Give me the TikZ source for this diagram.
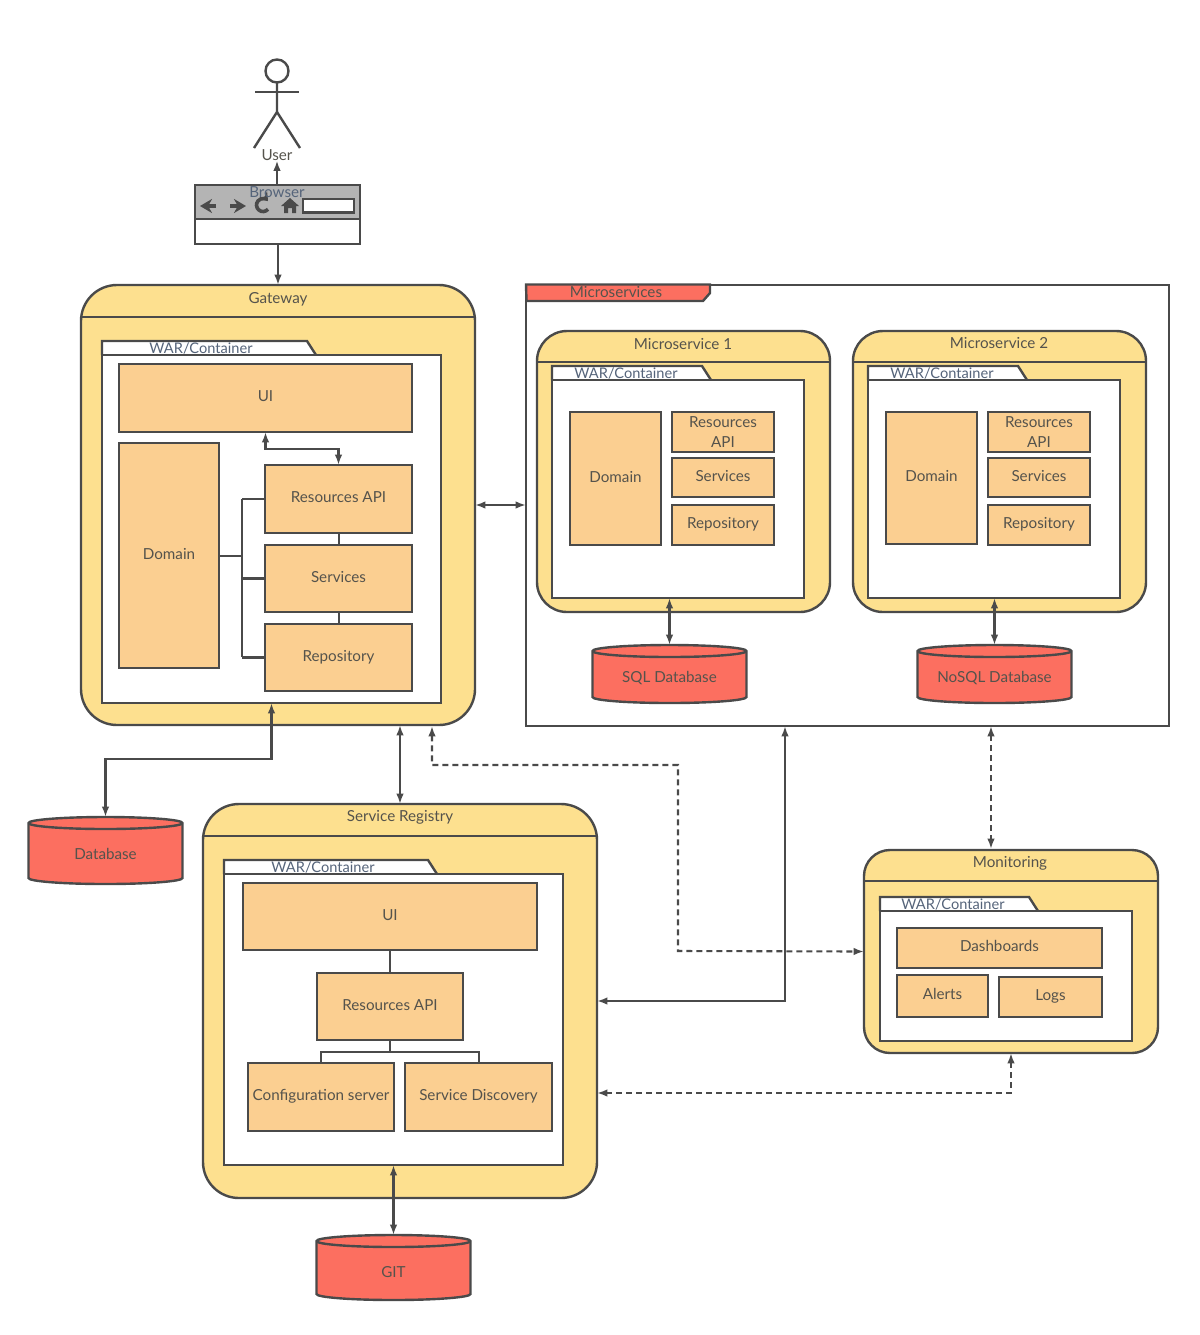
\documentclass[tikz,border=0pt]{standalone}
\usepackage{fontspec}
\setmainfont{Lato}
\usetikzlibrary{arrows.meta}

\definecolor{lineclr}{HTML}{4A4A4A}
\definecolor{textclr}{HTML}{55534C}
\definecolor{warclr}{HTML}{55647A}
\definecolor{yellowclr}{HTML}{FDE08F}
\definecolor{orangeclr}{HTML}{FBCF91}
\definecolor{redclr}{HTML}{FC6F60}
\definecolor{grayclr}{HTML}{B4B4B4}

\tikzset{
  every node/.style={font=\fontsize{7.6}{9.8}\selectfont, text=textclr, outer sep=0pt, inner sep=0pt},
  line/.style={draw=lineclr, line width=1.2pt},
  conn/.style={line, line width=1.05pt},
  both/.style={conn, {Latex[length=5.2pt,width=3.8pt]}-{Latex[length=5.2pt,width=3.8pt]}},
  single/.style={conn, -{Latex[length=5.2pt,width=3.8pt]}},
  dashconn/.style={both, dash pattern=on 3pt off 2pt},
  container/.style={line, fill=yellowclr},
  warbody/.style={line, fill=white},
  warlabel/.style={text=warclr, font=\fontsize{7.3}{9}\selectfont},
  box/.style={line, fill=orangeclr, align=center},
  boxline/.style={box, text height=6pt, text depth=2.5pt},
}

\begin{document}
\begin{tikzpicture}[x=0.5pt,y=-0.5pt]
  \useasboundingbox (0,0) rectangle (1200,1335);

  % user and browser
  \node[line, circle, minimum size=11.5pt] (head) at (277,71) {};
  \draw[line] (head.south) -- (277,112) -- (254,148);
  \draw[line] (277,112) -- (300,148);
  \draw[line] (255,92) -- (299,92);
  \node (userlabel) at (277,155) {User};

  \node[line, fill=white, minimum width=82.5pt, minimum height=29.5pt] (browser) at (277.5,214.5) {};
  \draw[line, fill=grayclr] (browser.north west) rectangle (browser.east |- 0,219);
  \draw[line width=1.6pt, draw=lineclr, -{Stealth[length=6pt,width=7pt]}] (216,206) -- (200,206);
  \draw[line width=1.6pt, draw=lineclr, -{Stealth[length=6pt,width=7pt]}] (230,206) -- (246,206);
  \draw[line width=1.8pt, draw=lineclr, -{Stealth[length=4pt,width=5.5pt]}] (268,209.2) arc (40:320:6.5);
  \fill[lineclr] (290,198) -- (299,206) -- (296,206) -- (296,213) -- (292,213) -- (292,208) -- (288,208) -- (288,213) -- (284,213) -- (284,206) -- (281,206) -- cycle;
  \draw[line, fill=white] (303,199) rectangle (354,212.5);
  \node[text=warclr] (browserlabel) at (277,192) {Browser};

  % containers
  \foreach \name/\cx/\cy/\w/\h/\rad/\hd/\tx/\ty/\title in {
      gateway/278/505/394/440/18/317/278/299/Gateway,
      msone/683.5/471.5/293/281/15/362/683/344/Microservice 1,
      mstwo/999.5/471.5/293/281/15/362/999/343/Microservice 2,
      registry/400/1001/394/394/18/836/400/817/Service Registry,
      monitoring/1011/951.5/294/203/13/881/1010/863/Monitoring} {
    \node[container, rounded corners=\rad pt, minimum width=\w*0.5pt, minimum height=\h*0.5pt] (\name) at (\cx,\cy) {};
    \draw[line] (\name.west |- 0,\hd) -- (\name.east |- 0,\hd);
    \node (\name title) at (\tx,\ty) {\title};
  }

  % microservices frame
  \node[draw=lineclr, line width=1pt, minimum width=321.5pt, minimum height=220.5pt] (micro) at (847.5,505) {};
  \draw[line, fill=redclr] (micro.north west) -- (710,284.5) -- (710,293) -- (703,301) -- (526.5,301) -- cycle;
  \node (microtitle) at (616,292) {Microservices};

  % war containers, tab first
  \foreach \name/\xa/\ya/\xb/\yb/\tabx/\lx/\ly in {
      gwwar/102/355/441/703/316/201/348,
      onewar/552/380/804/598/711/626/373,
      twowar/868/380/1120/598/1027/942/373,
      regwar/224/874/563/1165/437/323/867,
      monwar/880/911/1132/1041/1038/953/904} {
    \draw[warbody] (\xa,\ya) -- (\xa,\ya-14) -- (\tabx-9,\ya-14) -- (\tabx,\ya);
    \node[warbody, minimum width=(\xb-\xa)*0.5pt, minimum height=(\yb-\ya)*0.5pt] (\name) at ({(\xa+\xb)/2},{(\ya+\yb)/2}) {};
    \node[warlabel] (\name label) at (\lx,\ly) {WAR/Container};
  }

  % inner lines, under the boxes
  \draw[line] (242,499) -- (242,657);
  \draw[line] (339,525) -- (339,635);
  \draw[line] (390,950) -- (390,1052);
  \draw[line] (321,1063) -- (321,1052) -- (479,1052) -- (479,1063);

  % boxes
  \foreach \name/\cx/\cy/\w/\h/\txt in {
      gwui/265.5/398/293/68/UI,
      gwdomain/169/555.5/100/225/Domain,
      gwres/338.5/499/147/68/Resources API,
      gwserv/338.5/578.5/147/67/Services,
      gwrepo/338.5/657.5/147/67/Repository,
      onedomain/615.5/478.5/91/133/Domain,
      oneserv/723/477.5/102/39/Services,
      onerepo/723/525/102/40/Repository,
      twodomain/931.5/478/91/132/Domain,
      twoserv/1039/477.5/102/39/Services,
      tworepo/1039/525/102/40/Repository,
      regui/390/916.5/294/67/UI,
      regres/390/1006.5/146/67/Resources API,
      regconf/321/1097/146/68/Configuration server,
      regdisc/478.5/1097/147/68/Service Discovery,
      mondash/999.5/948/205/40/Dashboards,
      monalert/942.5/996/91/42/Alerts,
      monlogs/1050.5/997/103/40/Logs} {
    \node[boxline, minimum width=\w*0.5pt, minimum height=\h*0.5pt] (\name) at (\cx,\cy) {\txt};
  }
  \node[box, minimum width=51pt, minimum height=20pt] (oneres) at (723,432) {Resources\\API};
  \node[box, minimum width=51pt, minimum height=20pt] (twores) at (1039,432) {Resources\\API};
  \draw[line] (gwdomain.east |- 0,556) -- (242,556);
  \foreach \name in {gwres,gwserv,gwrepo}
    \draw[line] (242,0 |- \name.west) -- (\name.west);

  % databases
  \foreach \name/\cx/\cy/\h/\dy/\txt in {
      sql/669.5/674/58/4.5/SQL Database,
      nosql/994.5/674/58/4.5/NoSQL Database,
      gwdb/105.5/850.5/67/3.5/Database,
      git/393.5/1267.5/65/5/GIT} {
    \node[minimum width=77pt, minimum height=\h*0.5pt] (\name) at (\cx,\cy) {};
    \draw[line, fill=redclr] ([yshift=-3pt]\name.north west) arc (180:0:38.5pt and 3pt)
      -- ([yshift=3pt]\name.south east) arc (0:-180:38.5pt and 3pt) -- cycle;
    \draw[line] ([yshift=-3pt]\name.north west) arc (180:360:38.5pt and 3pt);
    \node (\name label) at (\cx,\cy+\dy) {\txt};
  }

  % free ends of the connectors
  \coordinate (gwdash) at (432,726);
  \coordinate (microleft) at (785,726);
  \coordinate (microdash) at (991,726);
  \coordinate (mondashtop) at (991,849);

  % connectors
  \draw[single] (browser.north -| userlabel.south) -- (userlabel.south);
  \draw[single] (browser.south -| gateway.north) -- (gateway.north);
  \draw[both] (gateway.east) -- (micro.west);
  \draw[both] (gwui.south) -- ++(0,17) -| (gwres.north);
  \draw[both] (registry.north |- gateway.south) -- (registry.north);
  \draw[both] (gwwar.south) -- ++(0,56) -| (gwdb.north);
  \draw[both] (sql.north |- onewar.south) -- (sql.north);
  \draw[both] (nosql.north |- twowar.south) -- (nosql.north);
  \draw[both] (regwar.south) -- (git.north);
  \draw[both] (microleft) |- (registry.east);
  \draw[dashconn] (gwdash) -- (432,765) -| (678,951) -- (monitoring.west);
  \draw[dashconn] (microdash) -- (mondashtop);
  \draw[dashconn] (monitoring.south) |- (registry.east |- 0,1093);
\end{tikzpicture}
\end{document}
